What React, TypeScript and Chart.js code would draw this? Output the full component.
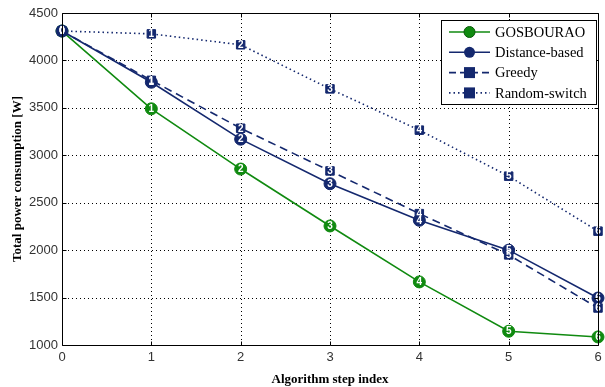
import React, { useEffect, useRef } from "react";
import { Chart, registerables } from "chart.js";

Chart.register(...registerables);

const steps = [0, 1, 2, 3, 4, 5, 6];
const gosbourao = [4310, 3490, 2855, 2255, 1665, 1145, 1085];
const distanceBased = [4310, 3770, 3170, 2700, 2315, 2000, 1495];
const greedy = [4310, 3790, 3285, 2835, 2385, 1950, 1390];
const randomSwitch = [4310, 4280, 4165, 3700, 3265, 2780, 2200];
const yTicks = [1000, 1500, 2000, 2500, 3000, 3500, 4000, 4500];

const GREEN = "#108a10";
const NAVY = "#14286e";

const seriesNames = ["GOSBOURAO", "Distance-based", "Greedy", "Random-switch"];

export default function App() {
  const ref = useRef<HTMLCanvasElement>(null);
  useEffect(() => {
    const ctx = ref.current!.getContext("2d")!;
    const mk = (label: string, data: number[], color: string, style: string, dash: number[]) => ({
      label,
      data: data.map((v, i) => ({ x: steps[i], y: v })),
      borderColor: color,
      backgroundColor: color,
      borderWidth: 1.6,
      borderDash: dash,
      pointStyle: style,
      pointRadius: 6,
      pointBorderColor: color,
      pointBackgroundColor: color,
      pointBorderWidth: 1,
      clip: false,
    });
    const gridPlugin = {
      id: "grid",
      beforeDatasetsDraw(chart: any) {
        const c = chart.ctx;
        const a = chart.chartArea;
        const xs = chart.scales.x;
        const ys = chart.scales.y;
        c.save();
        c.fillStyle = "#000";
        steps.forEach((s, i) => {
          if (i === 0 || i === steps.length - 1) return;
          const px = Math.round(xs.getPixelForValue(s));
          for (let y = a.top + 2; y < a.bottom; y += 4) c.fillRect(px, y, 1, 1);
        });
        yTicks.forEach((t, i) => {
          if (i === 0 || i === yTicks.length - 1) return;
          const py = Math.round(ys.getPixelForValue(t));
          for (let x = a.left + 2; x < a.right; x += 4) c.fillRect(x, py, 1, 1);
        });
        c.restore();
      },
    };
    const labelPlugin = {
      id: "labels",
      afterDatasetsDraw(chart: any) {
        const c = chart.ctx;
        c.save();
        c.fillStyle = "#ffffff";
        c.font = "bold 10px 'Liberation Sans', Arial, sans-serif";
        c.textAlign = "center";
        c.textBaseline = "middle";
        chart.data.datasets.forEach((ds: any, di: number) => {
          const meta = chart.getDatasetMeta(di);
          meta.data.forEach((pt: any, i: number) => {
            c.fillText(String(steps[i]), pt.x, pt.y + 0.5);
          });
        });
        c.restore();
      },
    };
    const framePlugin = {
      id: "frame",
      afterDraw(chart: any) {
        const c = chart.ctx;
        const a = chart.chartArea;
        c.save();
        c.strokeStyle = "#000";
        c.lineWidth = 1;
        c.setLineDash([]);
        const L = Math.round(a.left) + 0.5, R = Math.round(a.right) + 0.5;
        const T = Math.round(a.top) + 0.5, B = Math.round(a.bottom) + 0.5;
        c.beginPath();
        c.moveTo(L, T);
        c.lineTo(R, T);
        c.lineTo(R, B);
        c.lineTo(L, B);
        c.closePath();
        c.stroke();
        const xs = chart.scales.x;
        const ys = chart.scales.y;
        steps.forEach((s) => {
          const px = Math.round(xs.getPixelForValue(s)) + 0.5;
          c.beginPath();
          c.moveTo(px, B);
          c.lineTo(px, B - 4);
          c.moveTo(px, T);
          c.lineTo(px, T + 4);
          c.stroke();
        });
        yTicks.forEach((t) => {
          const py = Math.round(ys.getPixelForValue(t)) + 0.5;
          c.beginPath();
          c.moveTo(L, py);
          c.lineTo(L + 4, py);
          c.moveTo(R, py);
          c.lineTo(R - 4, py);
          c.stroke();
        });
        // legend
        const bx = 441.5, by = 20.5, bw = 155, bh = 84;
        c.fillStyle = "#fff";
        c.fillRect(bx, by, bw, bh);
        c.strokeRect(bx, by, bw, bh);
        const colors = [GREEN, NAVY, NAVY, NAVY];
        const dashes = [[], [], [7, 4], [1.5, 3]];
        const styles = ["circle", "circle", "rect", "rect"];
        seriesNames.forEach((n, i) => {
          const y = 32 + i * 20.3;
          c.strokeStyle = colors[i];
          c.lineWidth = 1.6;
          c.setLineDash(dashes[i]);
          c.beginPath();
          c.moveTo(449, y);
          c.lineTo(490, y);
          c.stroke();
          c.setLineDash([]);
          c.fillStyle = colors[i];
          c.beginPath();
          if (styles[i] === "circle") {
            c.arc(469.5, y, 5.5, 0, Math.PI * 2);
          } else {
            c.rect(464, y - 5.5, 11, 11);
          }
          c.fill();
          if (i === 0) {
            c.lineWidth = 1;
            c.strokeStyle = "#0a5a0a";
            c.stroke();
          }
          c.fillStyle = "#000";
          c.font = "14.5px 'Liberation Serif', 'Times New Roman', serif";
          c.textAlign = "left";
          c.textBaseline = "middle";
          c.fillText(n, 495, y + 1);
        });
        c.restore();
      },
    };
    const chart = new Chart(ctx, {
      type: "line",
      data: {
        datasets: [
          mk("Random-switch", randomSwitch, NAVY, "rect", [1.5, 3]),
          mk("Greedy", greedy, NAVY, "rect", [8, 5]),
          mk("Distance-based", distanceBased, NAVY, "circle", []),
          mk("GOSBOURAO", gosbourao, GREEN, "circle", []),
        ] as any,
      },
      options: {
        animation: false,
        responsive: false,
        layout: { padding: { top: 13, right: 0, left: 0, bottom: 0 } },
        plugins: { legend: { display: false }, tooltip: { enabled: false } },
        scales: {
          x: {
            type: "linear",
            min: 0,
            max: 6,
            afterFit: (s: any) => {
              s.height = 42;
              s.paddingRight = 0;
              s.paddingLeft = 0;
            },
            afterBuildTicks: (s: any) => {
              s.ticks = steps.map((v) => ({ value: v }));
            },
            grid: { display: false, drawTicks: false },
            border: { display: false },
            ticks: {
              color: "#333",
              padding: 5,
              callback: (v: any) => String(v),
              font: { family: "'Liberation Sans', Arial, sans-serif", size: 13 },
            },
            title: {
              display: true,
              text: "Algorithm step index",
              color: "#000",
              padding: { top: 2, bottom: 0 },
              font: { family: "'Liberation Serif', 'Times New Roman', serif", size: 13, weight: "bold" },
            },
          },
          y: {
            min: 1000,
            max: 4500,
            afterFit: (s: any) => {
              s.width = 62;
              s.paddingTop = 0;
              s.paddingBottom = 0;
            },
            afterBuildTicks: (s: any) => {
              s.ticks = yTicks.map((v) => ({ value: v }));
            },
            grid: { display: false, drawTicks: false },
            border: { display: false },
            ticks: {
              color: "#333",
              padding: 4,
              callback: (v: any) => String(v),
              font: { family: "'Liberation Sans', Arial, sans-serif", size: 13 },
            },
            title: {
              display: true,
              text: "Total power consumption [W]",
              color: "#000",
              padding: { top: 10, bottom: 2 },
              font: { family: "'Liberation Serif', 'Times New Roman', serif", size: 13, weight: "bold" },
            },
          },
        },
      } as any,
      plugins: [gridPlugin, labelPlugin, framePlugin],
    });
    return () => chart.destroy();
  }, []);
  return (
    <div style={{ position: "fixed", left: 0, top: 0, width: 605, height: 387, background: "#fff" }}>
      <canvas ref={ref} width={605} height={387} />
    </div>
  );
}
